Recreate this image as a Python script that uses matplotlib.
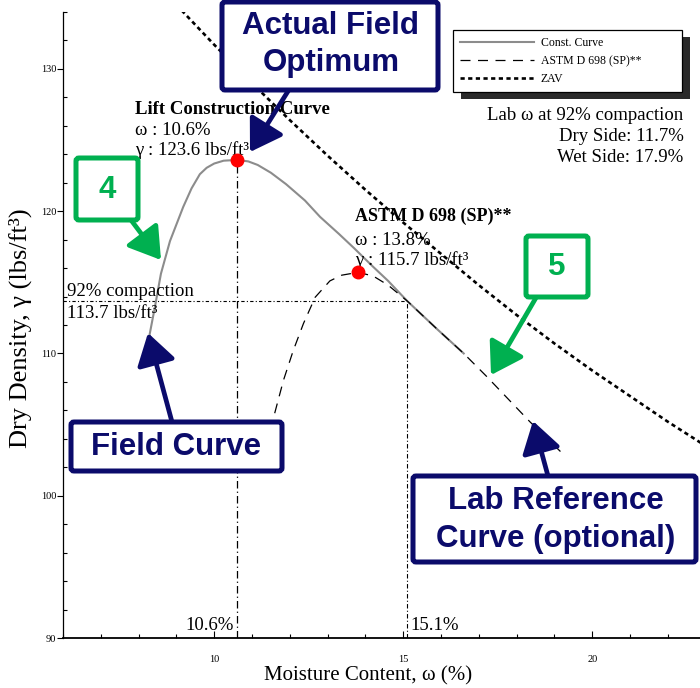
import matplotlib
matplotlib.use('Agg')
import matplotlib.pyplot as plt
import matplotlib.patheffects as pe
from matplotlib.patches import FancyBboxPatch
from matplotlib.ticker import MultipleLocator

# values
field_w = [8.26, 8.43, 8.59, 8.83, 9.18, 9.4, 9.62, 9.8, 10.0, 10.25, 10.6, 10.9, 11.15, 11.5,
           11.9, 12.4, 12.8, 13.3, 13.7, 14.2, 14.6, 15.1, 15.5, 15.9, 16.6]
field_g = [110.9, 113.25, 115.6, 117.9, 120.3, 121.6, 122.6, 123.05, 123.35, 123.55, 123.6, 123.5,
           123.25, 122.7, 121.9, 120.75, 119.6, 118.4, 117.4, 116.1, 115.1, 113.7, 112.7, 111.7, 110.0]

astm_w = [11.6, 11.83, 12.09, 12.36, 12.67, 13.06, 13.37, 13.8, 14.2, 14.6, 15.1, 15.9, 16.6,
          17.2, 18.35, 19.2]
astm_g = [105.8, 108.1, 110.2, 112.1, 113.95, 115.1, 115.5, 115.7, 115.45, 114.8, 113.7, 111.7,
          110.0, 108.4, 105.2, 103.0]

zav_w = [9.0, 10, 11, 12, 13, 14, 15, 16, 17, 18, 19, 20, 21, 22, 23]
zav_g = [134.5, 131.7, 129.0, 126.4, 123.9, 121.5, 119.2, 117.0, 114.8, 112.7, 110.7, 108.8,
         107.0, 105.2, 103.5]

field_opt = (10.6, 123.6)
lab_opt = (13.8, 115.7)
comp92 = 113.7
wet_w = 15.1

navy = '#0b0b6b'
green = '#00b050'
serif = ['Liberation Serif', 'DejaVu Serif']
sans = ['Liberation Sans', 'DejaVu Sans']

fig = plt.figure(figsize=(7, 6.88), dpi=100)
ax = fig.add_axes([63/700, 50/688, 637/700, 626/688])

ax.plot(field_w, field_g, color='#8c8c8c', lw=1.5, label='Const. Curve', zorder=3)
ax.plot(astm_w, astm_g, color='black', lw=0.9, dashes=(8, 6), label='ASTM D 698 (SP)**', zorder=3)
ax.plot(zav_w, zav_g, color='black', lw=1.9, dashes=(1.6, 1.3), label='ZAV', zorder=3)

# guide lines
ax.plot([field_opt[0], field_opt[0]], [90, field_opt[1]], color='black', lw=0.9, dashes=(6, 2.5, 1, 2.5))
ax.plot([wet_w, wet_w], [90, comp92], color='black', lw=0.8, dashes=(4, 2, 1, 2))
ax.plot([6, wet_w], [comp92, comp92], color='black', lw=0.8, dashes=(3, 2, 1, 2))

ax.plot(*field_opt, 'o', color='#ff0000', ms=9, zorder=5)
ax.plot(*lab_opt, 'o', color='#ff0000', ms=9, zorder=5)

ax.set_xlim(6, 22.85)
ax.set_ylim(90, 134)
ax.xaxis.set_major_locator(MultipleLocator(5))
ax.xaxis.set_minor_locator(MultipleLocator(1))
ax.yaxis.set_major_locator(MultipleLocator(10))
ax.yaxis.set_minor_locator(MultipleLocator(2))
ax.tick_params(axis='x', which='major', direction='in', length=5, width=0.8, labelsize=7.5, pad=12)
ax.tick_params(axis='x', which='minor', direction='in', length=3, width=0.8)
ax.tick_params(axis='y', which='major', direction='out', length=4, width=0.8, labelsize=7.5, pad=0.8)
ax.tick_params(axis='y', which='minor', direction='in', length=3, width=0.8)
for lbl in ax.get_xticklabels() + ax.get_yticklabels():
    lbl.set_fontfamily(serif)
ax.spines['top'].set_visible(False)
ax.spines['right'].set_visible(False)
ax.spines['bottom'].set_linewidth(1.3)
ax.spines['left'].set_linewidth(0.9)

fig.text(368/700, 1-676/688, 'Moisture Content, ω (%)', family=serif, fontsize=15,
         ha='center', va='center')
fig.text(20/700, 1-328/688, 'Dry Density, γ (lbs/ft³)', family=serif, fontsize=19,
         ha='center', va='center', rotation=90)

tkw = dict(family=serif, fontsize=13.5, color='black', va='baseline')
ax.text(7.9, 126.85, 'Lift Construction Curve', fontweight='bold', **tkw)
ax.text(7.9, 125.35, 'ω : 10.6%', **tkw)
ax.text(7.9, 123.95, 'γ : 123.6 lbs/ft³', **tkw)
ax.text(13.72, 119.3, 'ASTM D 698 (SP)**', fontweight='bold', fontsize=13, **{k: v for k, v in tkw.items() if k != 'fontsize'})
ax.text(13.72, 117.65, 'ω : 13.8%', **tkw)
ax.text(13.72, 116.25, 'γ : 115.7 lbs/ft³', **tkw)
ax.text(6.1, 114.05, '92% compaction', **tkw)
ax.text(6.1, 112.5, '113.7 lbs/ft³', **tkw)
ax.text(10.52, 90.55, '10.6%', ha='right', **tkw)
ax.text(15.18, 90.55, '15.1%', **tkw)
ax.text(22.42, 126.4, 'Lab ω at 92% compaction', ha='right', **tkw)
ax.text(22.42, 124.9, 'Dry Side: 11.7%', ha='right', **tkw)
ax.text(22.42, 123.45, 'Wet Side: 17.9%', ha='right', **tkw)

leg = ax.legend(loc='upper left', bbox_to_anchor=(453/700, 1-90/688, 229/700, 60/688),
                bbox_transform=fig.transFigure, mode='expand',
                prop={'family': serif, 'size': 8.5}, handlelength=6.3, handletextpad=0.55,
                labelspacing=0.5, borderpad=0.6, borderaxespad=0, fancybox=False,
                edgecolor='black', framealpha=1)
leg.get_frame().set_linewidth(0.9)
leg.get_frame().set_path_effects([pe.SimplePatchShadow(offset=(5.5, -5), shadow_rgbFace='#2a2a2a', alpha=1),
                                  pe.Normal()])

# callout boxes drawn in pixel space on top
ov = fig.add_axes([0, 0, 1, 1], facecolor='none')
ov.set_xlim(0, 700)
ov.set_ylim(688, 0)
ov.axis('off')

def callout(x0, y0, x1, y1, color, lines, cx, cys, size):
    ov.add_patch(FancyBboxPatch((x0, y0), x1 - x0, y1 - y0, boxstyle='round,pad=0,rounding_size=3',
                                facecolor='white', edgecolor=color, lw=3.6, zorder=4))
    for txt, cy in zip(lines, cys):
        ov.text(cx, cy, txt, family=sans, fontweight='bold', fontsize=size, color=color,
                ha='center', va='center', zorder=5)

def arrow(x0, y0, x1, y1, color):
    ov.annotate('', xy=(x1, y1), xytext=(x0, y0),
                arrowprops=dict(arrowstyle='-|>,head_length=0.95,head_width=0.6', lw=3.4,
                                color=color, mutation_scale=20, shrinkA=0, shrinkB=0), zorder=3)

arrow(290, 88, 250, 152, navy)
callout(222, 2, 438, 90, navy, ['Actual Field', 'Optimum'], 331, [26, 63], 22.5)
arrow(131, 220, 161, 260, green)
callout(76, 158, 138, 220, green, ['4'], 107, [190], 22.5)
arrow(537, 296, 491, 375, green)
callout(526, 236, 588, 297, green, ['5'], 557, [267], 22.5)
arrow(172, 422, 148, 333, navy)
callout(71, 422, 282, 471, navy, ['Field Curve'], 176, [447], 22.5)
arrow(548, 476, 533, 421, navy)
callout(413, 476, 696, 562, navy, ['Lab Reference', 'Curve (optional)'], 556, [501, 539], 22.5)

fig.savefig('out.png', dpi=100)
